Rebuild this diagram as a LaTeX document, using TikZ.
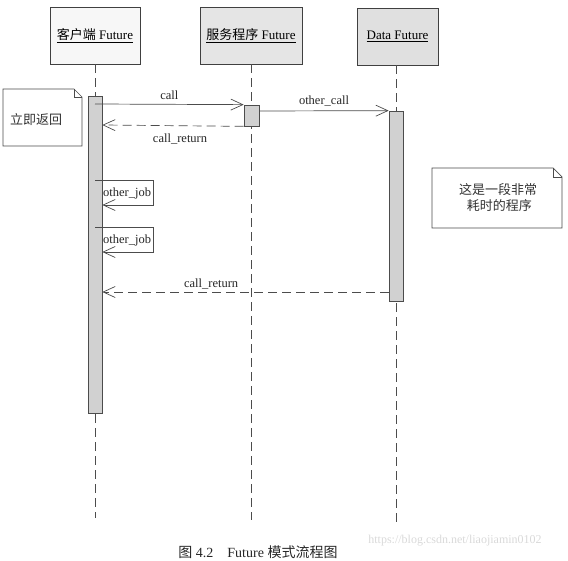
\documentclass[tikz,border=0pt]{standalone}
\usepackage{fontspec}
\setmainfont{Liberation Serif}
\newfontfamily\cjk{Noto Sans CJK SC}
\usetikzlibrary{arrows.meta}
\begin{document}
\begin{tikzpicture}[x=1pt,y=-1pt,
  objbox/.style={draw=black!75,line width=0.8pt,minimum width=90pt,minimum height=57pt,inner sep=0pt,font=\fontsize{13}{15}\selectfont},
  actbar/.style={draw=black!70,line width=0.7pt,fill=black!18,minimum width=14pt,inner sep=0pt},
  life/.style={draw=black!70,line width=0.8pt,dash pattern=on 9pt off 5pt},
  msg/.style={draw=black!70,line width=0.7pt,-{Straight Barb[length=12pt,width=11pt]}},
  ret/.style={msg,dash pattern=on 9pt off 5pt},
  lbl/.style={font=\fontsize{12.5}{14}\selectfont,text=black!85,inner sep=1pt},
  notetext/.style={font=\fontsize{13}{16}\cjk,text=black!80,align=center,inner sep=0pt}
]
\useasboundingbox (0,0) rectangle (568,561);
% objects
\node[objbox,fill=black!3] (client) at (95,35.5) {\underline{{\cjk 客户端} Future}};
\node[objbox,fill=black!10,minimum width=102pt] (server) at (251,35.5) {\underline{{\cjk 服务程序} Future}};
\node[objbox,fill=black!12,minimum width=81pt] (data) at (397.5,36.5) {\underline{Data Future}};
% lifeline ends
\coordinate (cend) at (95,518);
\coordinate (send) at (251,520);
\coordinate (dend) at (396,525);
\draw[life] (client.south) -- (cend);
\draw[life] (server.south) -- (send);
\draw[life] (data.south -| dend) -- (dend);
% activation bars
\node[actbar,minimum height=317pt] (cbar) at (95,254.5) {};
\node[actbar,minimum height=21pt,minimum width=15pt] (sbar) at (251.5,115.5) {};
\node[actbar,minimum height=190pt] (dbar) at (396,206) {};
% message rows
\coordinate (m1) at (0,104);
\coordinate (m2) at (0,125);
\coordinate (m3) at (0,111);
\coordinate (m4) at (0,292);
\draw[msg] (cbar.center |- m1) -- (sbar.north west) node[lbl,pos=0.5,above=3pt] {call};
\draw[ret] (sbar.south west) -- (cbar.east |- m2) node[lbl,pos=0.45,below=7pt] {call\_return};
\draw[msg] (sbar.east |- m3) -- (dbar.north west) node[lbl,pos=0.5,above=3pt] {other\_call};
\draw[ret] (dbar.west |- m4) -- (cbar.east |- m4) node[lbl,pos=0.62,above=2pt] {call\_return};
% self calls
\coordinate (j1a) at (153,180);
\coordinate (j1b) at (153,205);
\coordinate (j2a) at (153,227);
\coordinate (j2b) at (153,252);
\draw[msg] (cbar.center |- j1a) -- (j1a) -- (j1b) -- (cbar.east |- j1b);
\node[lbl,anchor=west] (oj1) at (102,193) {other\_job};
\draw[msg] (cbar.center |- j2a) -- (j2a) -- (j2b) -- (cbar.east |- j2b);
\node[lbl,anchor=west] (oj2) at (102,240) {other\_job};
% notes
\draw[draw=black!70,line width=0.7pt,fill=white] (3,89) -- (74,89) -- (82,97) -- (82,146) -- (3,146) -- cycle;
\draw[draw=black!70,line width=0.7pt] (74,89) -- (74,97) -- (82,97);
\node[notetext] (n1) at (36,120) {立即返回};
\draw[draw=black!70,line width=0.7pt,fill=white] (432,168) -- (553,168) -- (562,177) -- (562,228) -- (432,228) -- cycle;
\draw[draw=black!70,line width=0.7pt] (553,168) -- (553,177) -- (562,177);
\node[notetext] (n2) at (498,198) {这是一段非常\\\ 耗时的程序};
% caption
\node[font=\fontsize{14}{16}\selectfont,text=black!85] (cap) at (258,552) {{\cjk 图} 4.2\quad Future {\cjk 模式流程图}};
\node[font=\fontsize{12}{14}\selectfont,text=black!15] (wm) at (455,541) {https://blog.csdn.net/liaojiamin0102};
\end{tikzpicture}
\end{document}
